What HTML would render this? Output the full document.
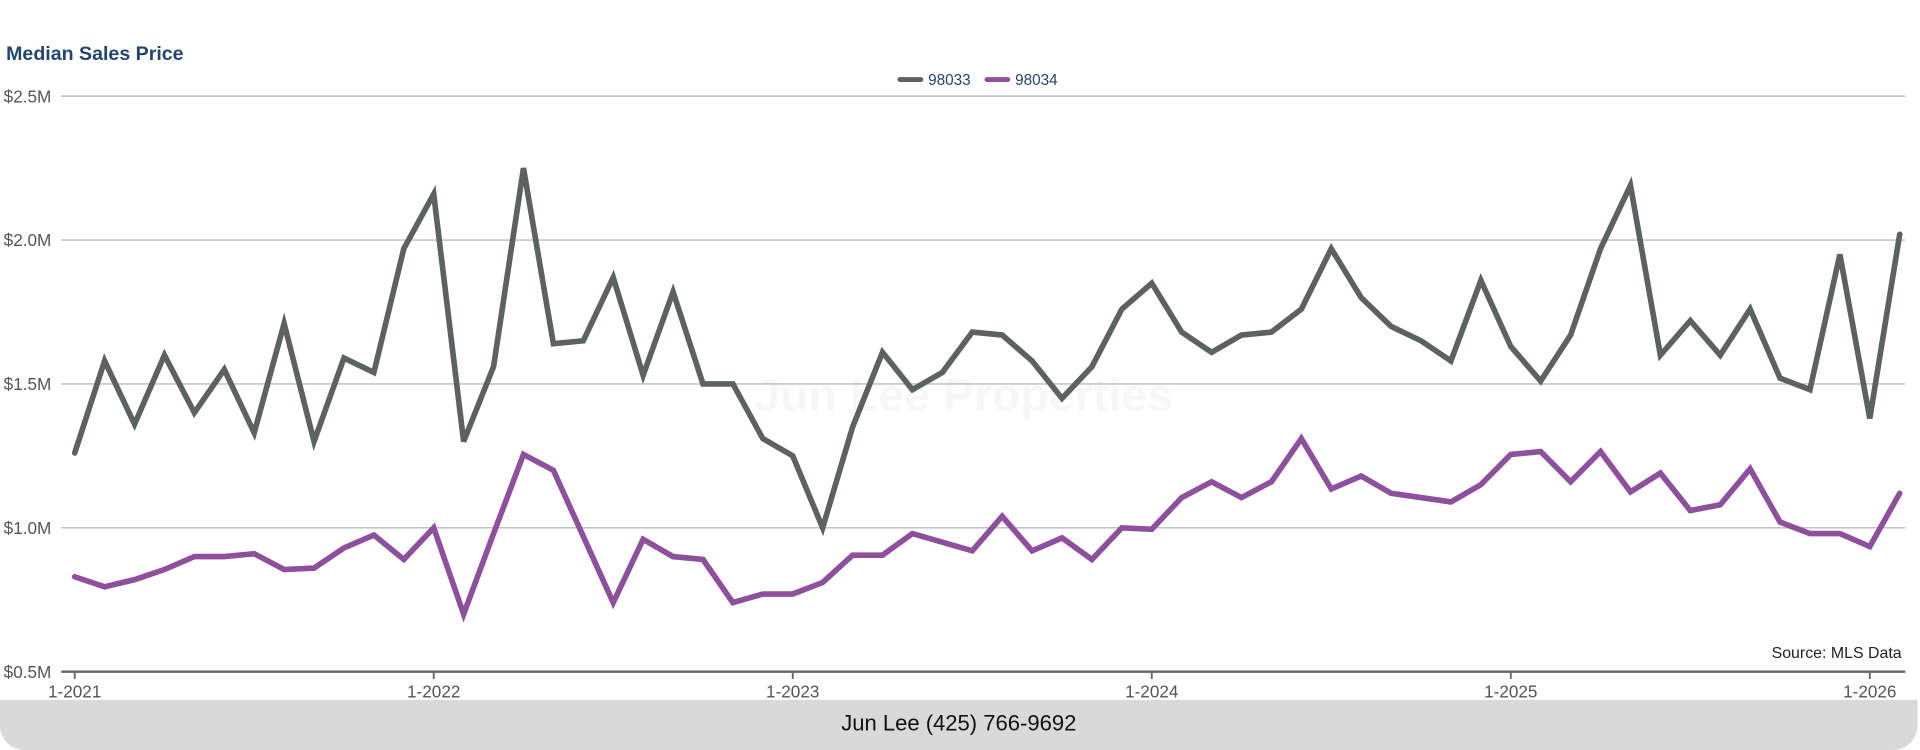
<!DOCTYPE html>
<html><head><meta charset="utf-8">
<style>
html,body{margin:0;padding:0;background:#fff;}
svg{display:block;font-family:"Liberation Sans",Arial,sans-serif;}
</style></head>
<body>
<svg id="chart" width="1920" height="750" viewBox="0 0 1568 613" preserveAspectRatio="none" xmlns="http://www.w3.org/2000/svg">
  <text x="5" y="49" font-size="16" font-weight="bold" fill="#23456e">Median Sales Price</text>
  <text x="787" y="336" font-size="38" font-weight="bold" fill="#f7f7f7" text-anchor="middle">Jun Lee Properties</text>
  <g id="grid"></g>
  <g id="yticks"></g>
  <g id="xticks"></g>
  <g id="series"></g>
  <g>
    <g>
      <line x1="735" y1="65" x2="752" y2="65" stroke="#5b625f" stroke-width="4" stroke-linecap="round"/>
      <text x="758" y="69.5" font-size="12.5" fill="#23456e">98033</text>
    </g>
    <g>
      <line x1="806" y1="65" x2="823" y2="65" stroke="#8e4f9c" stroke-width="4" stroke-linecap="round"/>
      <text x="829" y="69.5" font-size="12.5" fill="#23456e">98034</text>
    </g>
  </g>
  <text x="1553" y="538" font-size="13" fill="#222" text-anchor="end">Source: MLS Data</text>
  <path d="M0,572 H1566 V593 A20,20 0 0 1 1546,613 H20 A20,20 0 0 1 0,593 Z" fill="#d9d9d9"/>
  <text x="783" y="597" font-size="18" fill="#111" text-anchor="middle">Jun Lee (425) 766-9692</text>
</svg>
<script>
const yTicks = [0.5, 1.0, 1.5, 2.0, 2.5];
const yTickLabels = ["$0.5M", "$1.0M", "$1.5M", "$2.0M", "$2.5M"];
const xTickIndex = [0, 12, 24, 36, 48, 60];
const xTickLabels = ["1-2021", "1-2022", "1-2023", "1-2024", "1-2025", "1-2026"];
const seriesNames = ["98033", "98034"];
const values98033 = [1.26,1.58,1.36,1.60,1.40,1.55,1.33,1.71,1.30,1.59,1.54,1.97,2.16,1.30,1.56,2.25,1.64,1.65,1.87,1.53,1.82,1.50,1.50,1.31,1.25,1.00,1.35,1.61,1.48,1.54,1.68,1.67,1.58,1.45,1.56,1.76,1.85,1.68,1.61,1.67,1.68,1.76,1.97,1.80,1.70,1.65,1.58,1.86,1.63,1.51,1.67,1.97,2.19,1.60,1.72,1.60,1.76,1.52,1.48,1.95,1.38,2.02];
const values98034 = [0.83,0.795,0.82,0.855,0.90,0.90,0.91,0.855,0.86,0.93,0.975,0.89,1.00,0.70,0.98,1.255,1.20,0.97,0.74,0.96,0.90,0.89,0.74,0.77,0.77,0.81,0.905,0.905,0.98,0.95,0.92,1.04,0.92,0.965,0.89,1.00,0.995,1.105,1.16,1.105,1.16,1.31,1.135,1.18,1.12,1.105,1.09,1.15,1.255,1.265,1.16,1.265,1.125,1.19,1.06,1.08,1.205,1.02,0.98,0.98,0.935,1.12];

const NS = "http://www.w3.org/2000/svg";
const x = i => 61 + i * (1527 - 61) / 60;
const y = v => 549 - (v - 0.5) * 235.2;

const grid = document.getElementById('grid');
const yt = document.getElementById('yticks');
yTicks.forEach((v, k) => {
  if (k > 0) {
    const l = document.createElementNS(NS, 'line');
    
    
    l.setAttribute('x1', 50); l.setAttribute('x2', 1556);
    l.setAttribute('y1', y(v)); l.setAttribute('y2', y(v));
    l.setAttribute('stroke', '#bcbcbc'); l.setAttribute('stroke-width', '1.2');
    grid.appendChild(l);
  }
  const t = document.createElementNS(NS, 'text');
  
  
  t.setAttribute('x', 3); t.setAttribute('y', y(v) + 5);
  t.setAttribute('font-size', '14'); t.setAttribute('fill', '#555');
  t.textContent = yTickLabels[k];
  yt.appendChild(t);
});

const xt = document.getElementById('xticks');
const axis = document.createElementNS(NS, 'line');


axis.setAttribute('x1', 50); axis.setAttribute('x2', 1556);
axis.setAttribute('y1', 549); axis.setAttribute('y2', 549);
axis.setAttribute('stroke', '#666'); axis.setAttribute('stroke-width', '2');
xt.appendChild(axis);
xTickIndex.forEach((i, k) => {
  const tk = document.createElementNS(NS, 'line');
  
  
  tk.setAttribute('x1', x(i)); tk.setAttribute('x2', x(i));
  tk.setAttribute('y1', 549); tk.setAttribute('y2', 555);
  tk.setAttribute('stroke', '#666'); tk.setAttribute('stroke-width', '1.5');
  xt.appendChild(tk);
  const t = document.createElementNS(NS, 'text');
  
  
  t.setAttribute('x', x(i)); t.setAttribute('y', 570);
  t.setAttribute('font-size', '14'); t.setAttribute('fill', '#555');
  t.setAttribute('text-anchor', 'middle');
  t.textContent = xTickLabels[k];
  xt.appendChild(t);
});

const ser = document.getElementById('series');
[[values98033, '#5b625f', 'line-98033'], [values98034, '#8e4f9c', 'line-98034']].forEach(([vals, col, nm]) => {
  const p = document.createElementNS(NS, 'path');
  
  
  p.setAttribute('d', vals.map((v, i) => (i ? 'L' : 'M') + x(i).toFixed(2) + ',' + y(v).toFixed(2)).join(' '));
  p.setAttribute('fill', 'none'); p.setAttribute('stroke', col);
  p.setAttribute('stroke-width', '4.6'); p.setAttribute('stroke-linejoin', 'miter');
  p.setAttribute('stroke-linecap', 'round');
  ser.appendChild(p);
});
</script>
</body></html>
